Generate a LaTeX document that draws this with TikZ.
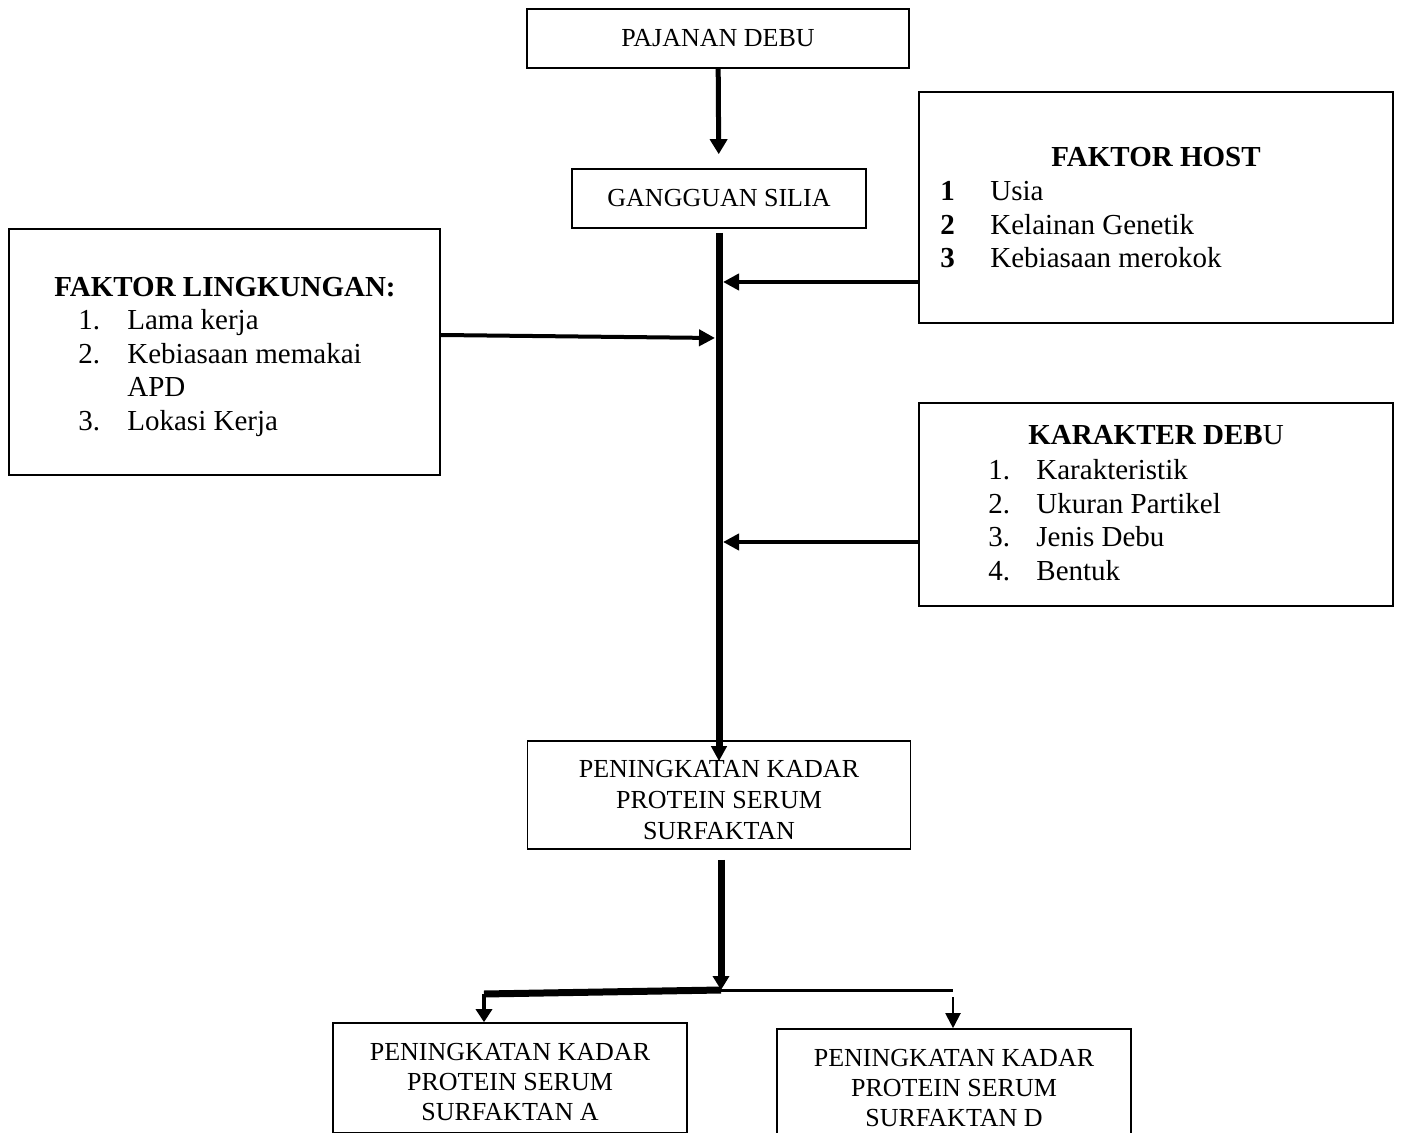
\documentclass[tikz,border=0pt]{standalone}
\usepackage{fontspec}
\setmainfont{Liberation Serif}
\usetikzlibrary{arrows.meta,positioning}

\newcommand{\capsfont}{\fontsize{13}{15.5}\selectfont}
\newcommand{\listfont}{\fontsize{14.5}{16.7}\selectfont}

\begin{document}
\begin{tikzpicture}[
    x=0.5pt, y=-0.5pt,
    box/.style={rectangle, draw, line width=0.8pt, inner sep=0pt, align=center, font=\capsfont},
    title/.style={anchor=base, inner sep=0pt, font=\listfont\bfseries},
    items/.style={anchor=base west, inner sep=0pt, font=\listfont},
    arrow/.style={-{Triangle[length=8pt,width=8pt]}, line width=2pt},
    trunk/.style={line width=3.5pt}
  ]
  \clip (0,0) rectangle (1402,1133);

  % Main chain
  \node[box, minimum width=191pt, minimum height=29.5pt] (debu) at (718,38.5) {PAJANAN DEBU};
  \node[box, minimum width=147pt, minimum height=29.5pt] (silia) at (719,198.5) {GANGGUAN SILIA};
  \node[box, minimum width=191.5pt, minimum height=54pt] (surf) at (719,795)
    {\rule{0pt}{13.6pt}PENINGKATAN KADAR\\PROTEIN SERUM\\SURFAKTAN};

  % Factor boxes
  \node[box, minimum width=237pt, minimum height=115.5pt] (host) at (1156,207.5) {};
  \node[box, minimum width=215.5pt, minimum height=123pt] (ling) at (224.5,352) {};
  \node[box, minimum width=237pt, minimum height=101.5pt] (kar) at (1156,504.5) {};

  \node[title] (hosttitle) at (1156,167) {FAKTOR HOST};
  \node[items] (hostitems) at (940,201) {\begin{tabular}[t]{@{}p{25pt}@{}l@{}}
      \textbf{1} & Usia\\
      \textbf{2} & Kelainan Genetik\\
      \textbf{3} & Kebiasaan merokok
    \end{tabular}};

  \node[title] (lingtitle) at (225,297) {FAKTOR LINGKUNGAN:};
  \node[items] (lingitems) at (78,330) {\begin{tabular}[t]{@{}p{24.5pt}@{}l@{}}
      1. & Lama kerja\\
      2. & Kebiasaan memakai\\
         & APD\\
      3. & Lokasi Kerja
    \end{tabular}};

  \node[title] (kartitle) at (1156,445) {KARAKTER DEB\textmd{U}};
  \node[items] (karitems) at (988,480) {\begin{tabular}[t]{@{}p{24pt}@{}l@{}}
      1. & Karakteristik\\
      2. & Ukuran Partikel\\
      3. & Jenis Debu\\
      4. & Bentuk
    \end{tabular}};

  % Result boxes
  \node[box, minimum width=177pt, minimum height=55pt, font=\fontsize{13}{14.8}\selectfont] (surfa) at (510,1078)
    {\rule{0pt}{12.6pt}PENINGKATAN KADAR\\PROTEIN SERUM\\SURFAKTAN A};
  \node[box, minimum width=177pt, minimum height=55pt, font=\fontsize{13}{14.8}\selectfont] (surfd) at (954,1084)
    {\rule{0pt}{12.6pt}PENINGKATAN KADAR\\PROTEIN SERUM\\SURFAKTAN D};

  % Joints
  \coordinate (jhost) at (723,282);
  \coordinate (jling) at (715,338);
  \coordinate (jkar) at (723,542);
  \coordinate (split) at (721,990);
  \coordinate (lturn) at (484,994);
  \coordinate (rturn) at (953,990);

  % Arrows
  \draw[arrow, line width=2.5pt, -{Triangle[length=7.5pt,width=8.5pt]}, shorten >=7pt] (debu) -- (silia);
  \draw[trunk, shorten <=2pt, shorten >=-10.5pt, -{Triangle[length=7.5pt,width=7.5pt]}] (silia.south) -- (surf.north);
  \draw[arrow] (jhost -| host.west) -- (jhost);
  \draw[arrow] ([yshift=8.5pt]ling.east) -- (jling);
  \draw[arrow] (jkar -| kar.west) -- (jkar);

  \draw[trunk, shorten <=5pt, -{Triangle[length=7pt,width=8pt]}] (surf.south -| split) -- (split);
  \draw[line width=3.5pt] (split) -- (lturn);
  \draw[line width=1.5pt] (split) -- (rturn);
  \draw[arrow, line width=2.2pt, -{Triangle[length=6.5pt,width=8pt]}] (lturn) -- (lturn |- surfa.north);
  \draw[arrow, line width=1pt, -{Triangle[length=7.5pt,width=7.5pt]}] ([yshift=-3.5pt]rturn) -- (rturn |- surfd.north);

\end{tikzpicture}
\end{document}
